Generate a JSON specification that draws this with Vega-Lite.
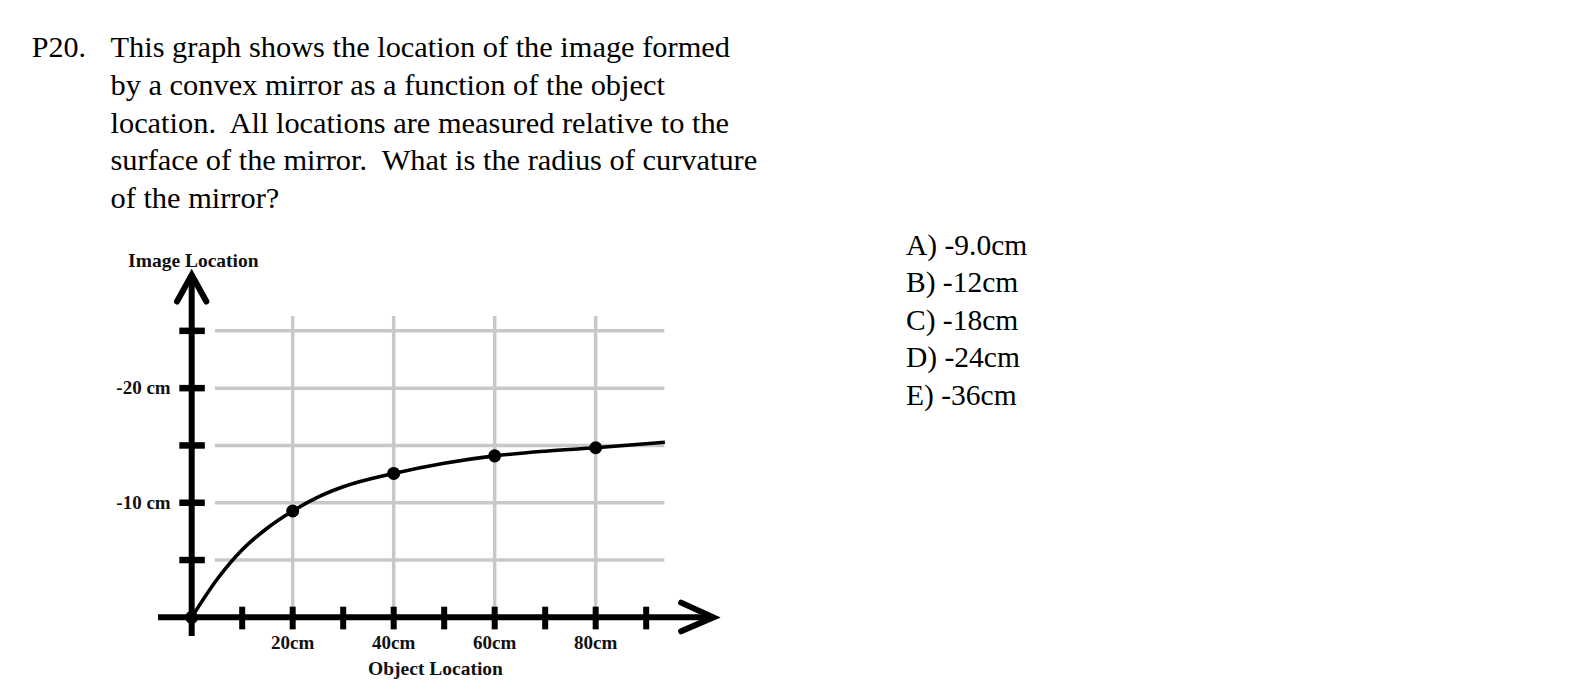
{
  "$schema": "https://vega.github.io/schema/vega-lite/v6.json",
  "width": 1590,
  "height": 690,
  "autosize": {"type": "fit", "contains": "padding"},
  "padding": 0,
  "background": "white",
  "config": {"view": {"stroke": null}},
  "layer": [
    {
      "data": {"values": [{"image": -5}, {"image": -10}, {"image": -15}, {"image": -20}, {"image": -25}]},
      "mark": {"type": "rule", "color": "#c8c8c8", "strokeWidth": 3.5},
      "encoding": {
        "y": {"field": "image", "type": "quantitative", "scale": {"domain": [-53.87, 6.34], "reverse": true, "nice": false, "zero": false}, "axis": null},
        "x": {"datum": 4.6, "type": "quantitative", "scale": {"domain": [-37.96, 276.9], "nice": false, "zero": false}, "axis": null},
        "x2": {"datum": 93.6}
      }
    },
    {
      "data": {"values": [{"object": 20}, {"object": 40}, {"object": 60}, {"object": 80}]},
      "mark": {"type": "rule", "color": "#c8c8c8", "strokeWidth": 3.5},
      "encoding": {
        "x": {"field": "object", "type": "quantitative", "scale": {"domain": [-37.96, 276.9], "nice": false, "zero": false}, "axis": null},
        "y": {"datum": -26.3, "type": "quantitative", "scale": {"domain": [-53.87, 6.34], "reverse": true, "nice": false, "zero": false}, "axis": null},
        "y2": {"datum": 0}
      }
    },
    {
      "data": {"values": [{"axis": "image"}]},
      "mark": {"type": "rule", "color": "black", "strokeWidth": 6},
      "encoding": {
        "x": {"datum": 0, "type": "quantitative", "scale": {"domain": [-37.96, 276.9], "nice": false, "zero": false}, "axis": null},
        "y": {"datum": 1.63, "type": "quantitative", "scale": {"domain": [-53.87, 6.34], "reverse": true, "nice": false, "zero": false}, "axis": null},
        "y2": {"datum": -29.7}
      }
    },
    {
      "data": {"values": [{"axis": "object"}]},
      "mark": {"type": "rule", "color": "black", "strokeWidth": 6},
      "encoding": {
        "y": {"datum": 0, "type": "quantitative", "scale": {"domain": [-53.87, 6.34], "reverse": true, "nice": false, "zero": false}, "axis": null},
        "x": {"datum": -6.67, "type": "quantitative", "scale": {"domain": [-37.96, 276.9], "nice": false, "zero": false}, "axis": null},
        "x2": {"datum": 103}
      }
    },
    {
      "data": {"values": [{"image": -5}, {"image": -10}, {"image": -15}, {"image": -20}, {"image": -25}]},
      "mark": {"type": "rule", "color": "black", "strokeWidth": 6.5},
      "encoding": {
        "y": {"field": "image", "type": "quantitative", "scale": {"domain": [-53.87, 6.34], "reverse": true, "nice": false, "zero": false}, "axis": null},
        "x": {"datum": -2.45, "type": "quantitative", "scale": {"domain": [-37.96, 276.9], "nice": false, "zero": false}, "axis": null},
        "x2": {"datum": 2.6}
      }
    },
    {
      "data": {"values": [{"object": 10}, {"object": 20}, {"object": 30}, {"object": 40}, {"object": 50}, {"object": 60}, {"object": 70}, {"object": 80}, {"object": 90}]},
      "mark": {"type": "rule", "color": "black", "strokeWidth": 6},
      "encoding": {
        "x": {"field": "object", "type": "quantitative", "scale": {"domain": [-37.96, 276.9], "nice": false, "zero": false}, "axis": null},
        "y": {"datum": -0.93, "type": "quantitative", "scale": {"domain": [-53.87, 6.34], "reverse": true, "nice": false, "zero": false}, "axis": null},
        "y2": {"datum": 1.05}
      }
    },
    {
      "data": {"values": [{"object": 0, "image": -29.87}]},
      "mark": {"type": "point", "shape": "M -1 1.8 L 0 0 L 1 1.8", "filled": false, "stroke": "black", "strokeWidth": 6, "strokeCap": "round", "size": 864, "opacity": 1},
      "encoding": {
        "x": {"field": "object", "type": "quantitative", "scale": {"domain": [-37.96, 276.9], "nice": false, "zero": false}, "axis": null},
        "y": {"field": "image", "type": "quantitative", "scale": {"domain": [-53.87, 6.34], "reverse": true, "nice": false, "zero": false}, "axis": null}
      }
    },
    {
      "data": {"values": [{"object": 103.3, "image": 0}]},
      "mark": {"type": "point", "shape": "M -2.3 -1.05 L 0 0 L -2.3 1.0", "filled": false, "stroke": "black", "strokeWidth": 6, "strokeCap": "round", "size": 784, "opacity": 1},
      "encoding": {
        "x": {"field": "object", "type": "quantitative", "scale": {"domain": [-37.96, 276.9], "nice": false, "zero": false}, "axis": null},
        "y": {"field": "image", "type": "quantitative", "scale": {"domain": [-53.87, 6.34], "reverse": true, "nice": false, "zero": false}, "axis": null}
      }
    },
    {
      "data": {"values": [
        {"object": 0, "image": 0},
        {"object": 5, "image": -3.3},
        {"object": 10, "image": -5.9},
        {"object": 15, "image": -7.8},
        {"object": 20, "image": -9.28},
        {"object": 25, "image": -10.5},
        {"object": 30, "image": -11.4},
        {"object": 40, "image": -12.56},
        {"object": 50, "image": -13.45},
        {"object": 60, "image": -14.09},
        {"object": 70, "image": -14.5},
        {"object": 80, "image": -14.8},
        {"object": 93.7, "image": -15.28}
      ]},
      "mark": {"type": "line", "color": "black", "strokeWidth": 3.6, "interpolate": "monotone"},
      "encoding": {
        "x": {"field": "object", "type": "quantitative", "scale": {"domain": [-37.96, 276.9], "nice": false, "zero": false}, "axis": null},
        "y": {"field": "image", "type": "quantitative", "scale": {"domain": [-53.87, 6.34], "reverse": true, "nice": false, "zero": false}, "axis": null}
      }
    },
    {
      "data": {"values": [
        {"object": 0, "image": 0},
        {"object": 20, "image": -9.28},
        {"object": 40, "image": -12.56},
        {"object": 60, "image": -14.09},
        {"object": 80, "image": -14.8}
      ]},
      "mark": {"type": "point", "filled": true, "color": "black", "opacity": 1, "size": 170},
      "encoding": {
        "x": {"field": "object", "type": "quantitative", "scale": {"domain": [-37.96, 276.9], "nice": false, "zero": false}, "axis": null},
        "y": {"field": "image", "type": "quantitative", "scale": {"domain": [-53.87, 6.34], "reverse": true, "nice": false, "zero": false}, "axis": null}
      }
    },
    {
      "data": {"values": [{"image": -20, "label": "-20 cm"}, {"image": -10, "label": "-10 cm"}]},
      "mark": {"type": "text", "font": "Liberation Serif", "fontWeight": "bold", "fontSize": 19, "align": "right", "baseline": "alphabetic", "dy": 6, "color": "#111111"},
      "encoding": {
        "y": {"field": "image", "type": "quantitative", "scale": {"domain": [-53.87, 6.34], "reverse": true, "nice": false, "zero": false}, "axis": null},
        "x": {"datum": -4.16, "type": "quantitative", "scale": {"domain": [-37.96, 276.9], "nice": false, "zero": false}, "axis": null},
        "text": {"field": "label"}
      }
    },
    {
      "data": {"values": [{"object": 20, "label": "20cm"}, {"object": 40, "label": "40cm"}, {"object": 60, "label": "60cm"}, {"object": 80, "label": "80cm"}]},
      "mark": {"type": "text", "font": "Liberation Serif", "fontWeight": "bold", "fontSize": 19, "align": "center", "baseline": "alphabetic", "color": "#111111"},
      "encoding": {
        "x": {"field": "object", "type": "quantitative", "scale": {"domain": [-37.96, 276.9], "nice": false, "zero": false}, "axis": null},
        "y": {"datum": 2.79, "type": "quantitative", "scale": {"domain": [-53.87, 6.34], "reverse": true, "nice": false, "zero": false}, "axis": null},
        "text": {"field": "label"}
      }
    },
    {
      "data": {"values": [{"label": "Image Location"}]},
      "mark": {"type": "text", "font": "Liberation Serif", "fontWeight": "bold", "fontSize": 19.5, "align": "center", "baseline": "alphabetic", "color": "#111111"},
      "encoding": {
        "x": {"datum": 0.32, "type": "quantitative", "scale": {"domain": [-37.96, 276.9], "nice": false, "zero": false}, "axis": null},
        "y": {"datum": -30.6, "type": "quantitative", "scale": {"domain": [-53.87, 6.34], "reverse": true, "nice": false, "zero": false}, "axis": null},
        "text": {"field": "label"}
      }
    },
    {
      "data": {"values": [{"label": "Object Location"}]},
      "mark": {"type": "text", "font": "Liberation Serif", "fontWeight": "bold", "fontSize": 19.5, "align": "center", "baseline": "alphabetic", "color": "#111111"},
      "encoding": {
        "x": {"datum": 48.28, "type": "quantitative", "scale": {"domain": [-37.96, 276.9], "nice": false, "zero": false}, "axis": null},
        "y": {"datum": 5.03, "type": "quantitative", "scale": {"domain": [-53.87, 6.34], "reverse": true, "nice": false, "zero": false}, "axis": null},
        "text": {"field": "label"}
      }
    },
    {
      "data": {"values": [{"label": "P20."}]},
      "mark": {"type": "text", "font": "Liberation Serif", "fontSize": 30, "align": "left", "baseline": "alphabetic", "color": "black"},
      "encoding": {
        "x": {"datum": -31.68, "type": "quantitative", "scale": {"domain": [-37.96, 276.9], "nice": false, "zero": false}, "axis": null},
        "y": {"datum": -48.87, "type": "quantitative", "scale": {"domain": [-53.87, 6.34], "reverse": true, "nice": false, "zero": false}, "axis": null},
        "text": {"field": "label"}
      }
    },
    {
      "data": {"values": [{"label": "This graph shows the location of the image formed\nby a convex mirror as a function of the object\nlocation.\u00a0 All locations are measured relative to the\nsurface of the mirror.\u00a0 What is the radius of curvature\nof the mirror?"}]},
      "mark": {"type": "text", "font": "Liberation Serif", "fontSize": 30.4, "align": "left", "baseline": "alphabetic", "lineBreak": "\n", "lineHeight": 37.7, "color": "black"},
      "encoding": {
        "x": {"datum": -16.08, "type": "quantitative", "scale": {"domain": [-37.96, 276.9], "nice": false, "zero": false}, "axis": null},
        "y": {"datum": -48.87, "type": "quantitative", "scale": {"domain": [-53.87, 6.34], "reverse": true, "nice": false, "zero": false}, "axis": null},
        "text": {"field": "label"}
      }
    },
    {
      "data": {"values": [{"label": "A) -9.0cm\nB) -12cm\nC) -18cm\nD) -24cm\nE) -36cm"}]},
      "mark": {"type": "text", "font": "Liberation Serif", "fontSize": 29.5, "align": "left", "baseline": "alphabetic", "lineBreak": "\n", "lineHeight": 37.5, "color": "black"},
      "encoding": {
        "x": {"datum": 141.45, "type": "quantitative", "scale": {"domain": [-37.96, 276.9], "nice": false, "zero": false}, "axis": null},
        "y": {"datum": -31.63, "type": "quantitative", "scale": {"domain": [-53.87, 6.34], "reverse": true, "nice": false, "zero": false}, "axis": null},
        "text": {"field": "label"}
      }
    }
  ]
}
